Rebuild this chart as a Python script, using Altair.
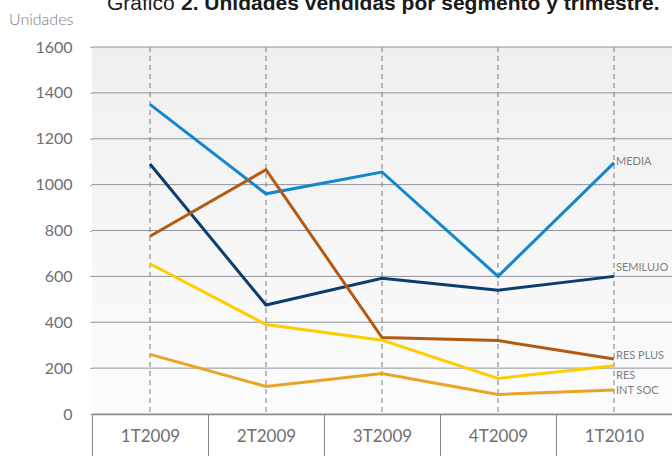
import altair as alt
import pandas as pd

# Quarterly units sold by segment
quarters = ["1T2009", "2T2009", "3T2009", "4T2009", "1T2010"]
segments = ["MEDIA", "SEMILUJO", "RES PLUS", "RES", "INT SOC"]
media = [1350, 960, 1055, 600, 1095]
semilujo = [1090, 475, 592, 540, 600]
res_plus = [775, 1065, 333, 320, 240]
res = [655, 390, 322, 155, 210]
int_soc = [260, 120, 177, 85, 105]
y_ticks = [0, 200, 400, 600, 800, 1000, 1200, 1400, 1600]

series = dict(zip(segments, [media, semilujo, res_plus, res, int_soc]))
colors = ["#1287cc", "#0b3d6e", "#b35a12", "#ffcc00", "#e9a325"]
# vertical nudge (px) for each end label so they don't collide
label_dy = {"MEDIA": -1, "SEMILUJO": -8, "RES PLUS": -3, "RES": 10, "INT SOC": 1}

rows = []
for seg, vals in series.items():
    for q, v in zip(quarters, vals):
        rows.append({"trimestre": q, "segmento": seg, "unidades": v})
df = pd.DataFrame(rows)

W, H = 580, 367
FONT = "Lato"
GREY = "#6f6f6f"

x_enc = alt.X(
    "trimestre:N",
    sort=quarters,
    bandPosition=0.5,
    scale=alt.Scale(type="band", paddingInner=0, paddingOuter=0),
    axis=alt.Axis(
        title=None,
        orient="bottom",
        tickBand="extent",
        tickSize=42,
        tickColor="#7d8590",
        tickWidth=1,
        domainColor="#7d8590",
        domainWidth=1.5,
        labelPadding=-28,
        labelFontSize=17,
        labelColor=GREY,
        labelFont=FONT,
        labelAngle=0,
        grid=False,
    ),
)
y_scale = alt.Scale(domain=[0, 1600], nice=False)
y_enc = alt.Y(
    "unidades:Q",
    scale=y_scale,
    axis=alt.Axis(
        title=None,
        values=y_ticks,
        format="d",
        grid=False,
        domain=False,
        tickSize=2,
        tickColor="#8e939c",
        labelPadding=18,
        labelFontSize=16,
        labelColor=GREY,
        labelFont=FONT,
    ),
)

gradient = alt.LinearGradient(
    gradient="linear",
    stops=[alt.GradientStop(color="#efefef", offset=0),
           alt.GradientStop(color="#fcfcfc", offset=1)],
    x1=0, x2=0, y1=0, y2=1,
)
background = alt.Chart(df).mark_rect(fill=gradient).encode(
    x=alt.value(0), x2=alt.value(W), y=alt.value(0), y2=alt.value(H)
)

# horizontal gridlines drawn above the shaded plot background
hgrid = alt.Chart(pd.DataFrame({"unidades": y_ticks})).mark_rule(
    color="#8e939c", strokeWidth=1
).encode(y=alt.Y("unidades:Q", scale=y_scale))

vlines = alt.Chart(pd.DataFrame({"trimestre": quarters})).mark_rule(
    color="#8a8f96", strokeDash=[5, 4], strokeWidth=1.2
).encode(x=x_enc)

lines = alt.Chart(df).mark_line(strokeWidth=3).encode(
    x=x_enc,
    y=y_enc,
    color=alt.Color("segmento:N", scale=alt.Scale(domain=segments, range=colors), legend=None),
    detail="segmento:N",
)

labels = []
last = df[df["trimestre"] == quarters[-1]]
for seg in segments:
    labels.append(
        alt.Chart(last[last["segmento"] == seg]).mark_text(
            align="left", baseline="middle", dx=2, dy=label_dy[seg],
            fontSize=11, font=FONT, color="#7f7f7f",
        ).encode(x=alt.X("trimestre:N", sort=quarters, bandPosition=0.5), y=alt.Y("unidades:Q"), text="segmento:N")
    )

unit_df = pd.DataFrame({"t": ["Unidades"]})
unit_label = alt.Chart(unit_df).mark_text(
    align="left", baseline="middle", fontSize=16, font=FONT, fontWeight=300, color="#7a7a7a"
).encode(x=alt.value(-83), y=alt.value(-27), text="t:N")

title_df = pd.DataFrame({"a": ["Gráfico "], "b": ["2. Unidades vendidas por segmento y trimestre."]})
title_a = alt.Chart(title_df).mark_text(
    align="left", baseline="alphabetic", fontSize=21, font="Liberation Sans", color="#1a1a1a"
).encode(x=alt.value(15), y=alt.value(-37), text="a:N")
title_b = alt.Chart(title_df).mark_text(
    align="left", baseline="alphabetic", fontSize=21, font="Liberation Sans",
    fontWeight="bold", color="#1a1a1a"
).encode(x=alt.value(89), y=alt.value(-37), text="b:N")

chart = alt.layer(background, hgrid, vlines, lines, *labels, unit_label, title_a, title_b).properties(
    width=W, height=H,
    autosize=alt.AutoSizeParams(type="none"),
    padding={"left": 92, "top": 47, "right": 0, "bottom": 42},
).configure_view(stroke="#9aa0a8", strokeWidth=1).configure(background="white")

chart.save("out.html", embed_options={"renderer": "svg", "actions": False})
